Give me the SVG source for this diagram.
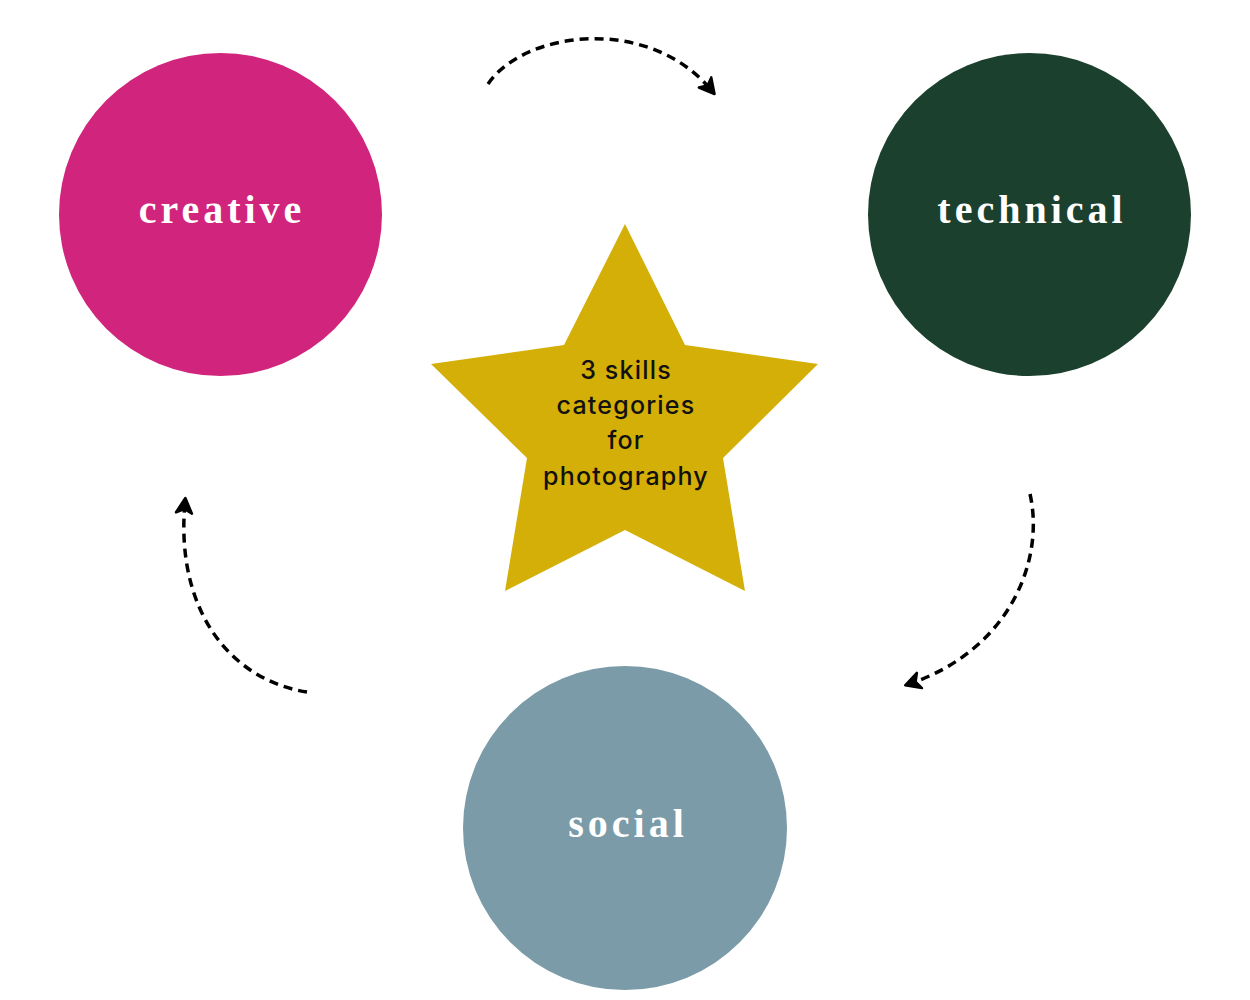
<svg xmlns="http://www.w3.org/2000/svg" width="1250" height="1000" viewBox="0 0 1250 1000">
  <defs>
    <style>
      .lbl { font-family: "Liberation Serif", "DejaVu Serif", serif; font-weight: bold; font-size: 40px; letter-spacing: 4px; fill: #ffffff; text-anchor: middle; }
      .star-txt { font-family: Inter, "Noto Sans", sans-serif; font-size: 25px; font-weight: 500; letter-spacing: 1.2px; fill: #111111; text-anchor: middle; }
      .conn { fill: none; stroke: #000000; stroke-width: 3.5; stroke-dasharray: 9 6; marker-end: url(#arrow); }
    </style>
    <marker id="arrow" markerUnits="userSpaceOnUse" markerWidth="24" markerHeight="24" refX="13" refY="10" orient="auto">
      <path d="M2,2 L17,10 L2,18 L6,10 Z" fill="#000000" stroke="#000000" stroke-width="2.5" stroke-linejoin="round"/>
    </marker>
  </defs>
  <rect width="1250" height="1000" fill="#ffffff"/>

  <g id="creative">
    <circle cx="220.5" cy="214.5" r="161.5" fill="#D1247C"/>
    <text class="lbl" x="222" y="223">creative</text>
  </g>

  <g id="technical">
    <circle cx="1029.5" cy="214.5" r="161.5" fill="#1B402D"/>
    <text class="lbl" x="1032" y="223">technical</text>
  </g>

  <g id="social">
    <circle cx="625" cy="828" r="162" fill="#7A9BA7"/>
    <text class="lbl" x="628" y="837">social</text>
  </g>

  <g id="center-star">
    <polygon points="625,224 685,345 818,364 723,458 745,591 625,530 505,591 527,458 431,364 564,345" fill="#D4AF07"/>
    <text class="star-txt" x="626" y="379">3 skills</text>
    <text class="star-txt" x="626" y="414">categories</text>
    <text class="star-txt" x="626" y="449">for</text>
    <text class="star-txt" x="626" y="485">photography</text>
  </g>

  <g id="connectors">
    <path class="conn" d="M488,84 C525,30 650,15 712,91"/>
    <path class="conn" d="M1030,494 C1045,560 1010,650 909,684"/>
    <path class="conn" d="M307,692 C230,680 175,610 185,502"/>
  </g>
</svg>
